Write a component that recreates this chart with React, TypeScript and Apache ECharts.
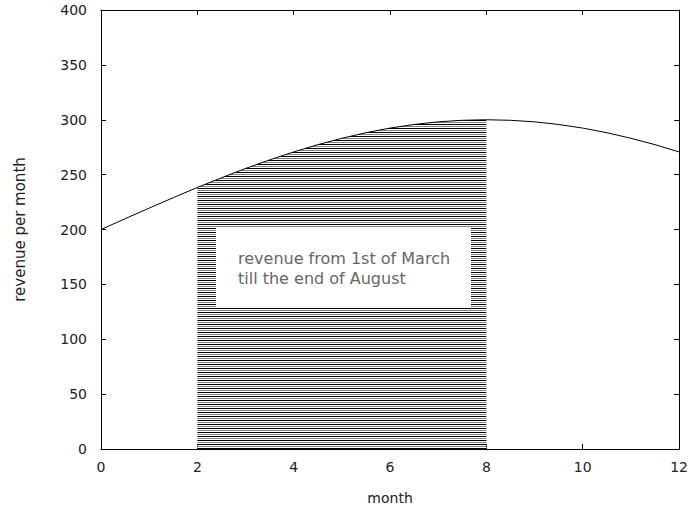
import React, { useEffect, useRef } from "react";
import * as echarts from "echarts";

const months = [0, 0.5, 1, 1.5, 2, 2.5, 3, 3.5, 4, 4.5, 5, 5.5, 6, 6.5, 7, 7.5, 8, 8.5, 9, 9.5, 10, 10.5, 11, 11.5, 12];
const revenue = [200, 209.8, 219.5, 229, 238.3, 247.1, 255.6, 263.4, 270.7, 277.3, 283.1, 288.2, 292.4, 295.7, 298.1, 299.5, 300, 299.5, 298.1, 295.7, 292.4, 288.2, 283.1, 277.3, 270.7];
const fillFrom = 2;
const fillTo = 8;
const xLabel = "month";
const yLabel = "revenue per month";
const noteLines = ["revenue from 1st of March", "till the end of August"];

export default function App() {
  const ref = useRef<HTMLDivElement>(null);
  useEffect(() => {
    if (!ref.current) return;
    const chart = echarts.init(ref.current, null, { renderer: "svg" });
    const cv = document.createElement("canvas");
    cv.width = 1;
    cv.height = 4;
    const ctx = cv.getContext("2d")!;
    const rows = ["#000000", "#ffffff", "#808080", "#ffffff"];
    rows.forEach((c, i) => {
      ctx.fillStyle = c;
      ctx.fillRect(0, i, 1, 1);
    });
    const all = months.map((m, i) => [m, revenue[i]]);
    const fill = all.filter((p) => p[0] >= fillFrom && p[0] <= fillTo);
    const font = "DejaVu Sans";
    const axisCommon = {
      type: "value" as const,
      axisLine: { show: true, onZero: false, lineStyle: { color: "#000", width: 1 } },
      axisTick: { show: true, inside: true, length: 5, lineStyle: { color: "#000" } },
      splitLine: { show: false },
    };
    chart.setOption({
      animation: false,
      backgroundColor: "#fff",
      grid: { left: 101, right: 11, top: 10, bottom: 67 },
      xAxis: [
        {
          ...axisCommon,
          position: "bottom",
          min: 0,
          max: 12,
          interval: 2,
          name: xLabel,
          nameLocation: "middle",
          nameGap: 42,
          nameTextStyle: { color: "#222", fontSize: 14, fontFamily: font },
          axisLabel: { color: "#222", fontSize: 14, fontFamily: font, margin: 11 },
        },
        {
          ...axisCommon,
          position: "top",
          min: 0,
          max: 12,
          interval: 2,
          axisLabel: { show: false },
        },
      ],
      yAxis: [
        {
          ...axisCommon,
          position: "left",
          min: 0,
          max: 400,
          interval: 50,
          name: yLabel,
          nameLocation: "middle",
          nameGap: 74,
          nameRotate: 90,
          nameTextStyle: { color: "#222", fontSize: 15, fontFamily: font },
          axisLabel: { color: "#222", fontSize: 14, fontFamily: font, margin: 14 },
        },
        {
          ...axisCommon,
          position: "right",
          min: 0,
          max: 400,
          interval: 50,
          axisLabel: { show: false },
        },
      ],
      series: [
        {
          type: "line",
          data: fill,
          showSymbol: false,
          symbol: "none",
          lineStyle: { width: 0 },
          areaStyle: { color: { image: cv, repeat: "repeat" }, opacity: 1 },
          z: 1,
          silent: true,
        },
        {
          type: "line",
          data: all,
          smooth: false,
          showSymbol: false,
          symbol: "none",
          lineStyle: { color: "#000", width: 1 },
          z: 3,
        },
      ],
      graphic: [
        {
          type: "rect",
          z: 100,
          shape: { x: 216, y: 227, width: 255, height: 81 },
          style: { fill: "#fff" },
        },
        {
          type: "text",
          z: 101,
          x: 238,
          y: 248,
          style: {
            text: noteLines.join("\n"),
            fill: "#666",
            fontSize: 16,
            fontFamily: font,
            lineHeight: 20,
          },
        },
      ],
    });
    return () => chart.dispose();
  }, []);
  return <div ref={ref} style={{ width: 691, height: 516, position: "absolute", left: 0, top: 0 }} />;
}
